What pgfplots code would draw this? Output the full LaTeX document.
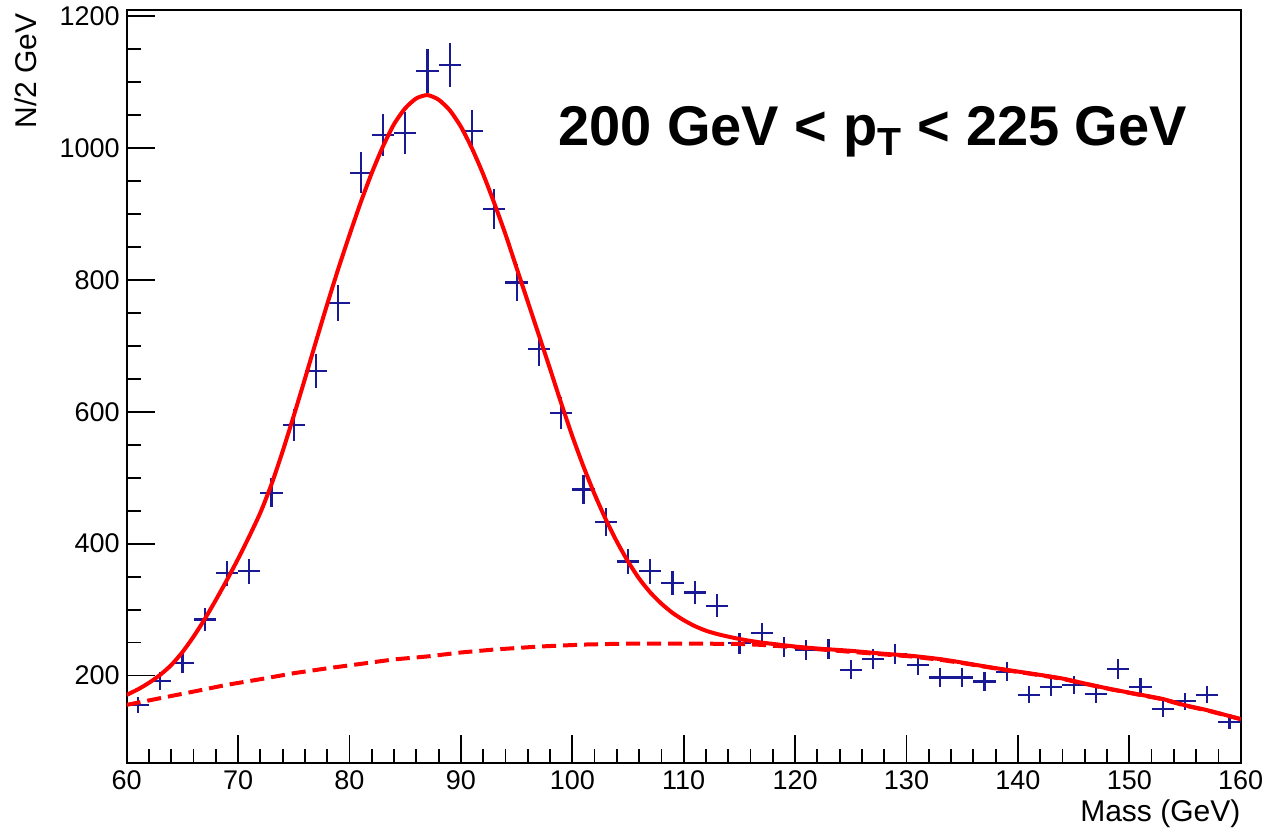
\documentclass[border=0pt]{standalone}
\usepackage{fontspec}
\setmainfont{Liberation Sans}
\usepackage{pgfplots}
\usepackage{pgfplotstable}
\pgfplotsset{compat=1.18}
\definecolor{rootblue}{RGB}{25,25,150}
\definecolor{rootred}{RGB}{255,0,0}

\pgfplotstableread{
x y ex ey
61 155 1 12.4
63 192 1 13.9
65 219 1 14.8
67 285 1 16.9
69 355 1 18.8
71 358 1 18.9
73 477 1 21.8
75 580 1 24.1
77 662 1 25.7
79 765 1 27.7
81 962 1 31.0
83 1020 1 31.9
85 1023 1 32.0
87 1117 1 33.4
89 1126 1 33.6
91 1026 1 32.0
93 907 1 30.1
95 796 1 28.2
97 695 1 26.4
99 598 1 24.5
101 482 1 22.0
103 433 1 20.8
105 373 1 19.3
107 358 1 18.9
109 340 1 18.4
111 326 1 18.1
113 306 1 17.5
115 249 1 15.8
117 264 1 16.2
119 243 1 15.6
121 239 1 15.5
123 240 1 15.5
125 209 1 14.5
127 225 1 15.0
129 233 1 15.3
131 216 1 14.7
133 197 1 14.0
135 197 1 14.0
137 191 1 13.8
139 206 1 14.4
141 171 1 13.1
143 183 1 13.5
145 186 1 13.6
147 172 1 13.1
149 210 1 14.5
151 183 1 13.5
153 149 1 12.2
155 161 1 12.7
157 171 1 13.1
159 130 1 11.4
}\datatable

\pgfplotstableread{
x y
60 170.7
61 179
62 189
63 201
64 216
65 235.5
66 259
67 285.5
68 314.5
69 345
70 377
71 411
72 447
73 490
74 540
75 594
76 650
77 707
78 763
79 817
80 868
81 917
82 962
83 1002
84 1036
85 1060
86 1075
87 1080
88 1073
89 1057
90 1032
91 999
92 960
93 916
94 869
95 818
96 767
97 716
98 665
99 613
100 563
101 517
102 475
103 437
104 403
105 373
106 347
107 326
108 309
109 295
110 284
111 275
112 268
113 263
114 259
115 255.5
116 252.5
117 250
118 248
120 244
122 241
125 237.5
128 233
130.4 230
133 225
135 219.7
137 214
139.4 207.6
142 201
144 195.5
146 188
148.4 179.3
151 171
153 164.5
155 155
157 147.5
160 134
}\totfit

\pgfplotstableread{
x y
60 155.6
63 165.7
66 175.7
69 186
72 194.5
75 203.6
78 211
81 217.7
84 224.5
87 229
90 235
93 239.5
97 244
101 247
105 248.5
110 248.5
115 248
117 246.5
120 243
122 240
125 236
128 232
130.4 229
133 224
135 219
137 213.5
139.4 207
142 200.5
144 195
146 187.5
148.4 179
151 170.5
153 164
155 154.5
157 147
160 134
}\bkg

\begin{document}
\begin{tikzpicture}
\begin{axis}[
  scale only axis, width=557bp, height=376.65bp,
  xmin=60, xmax=160, ymin=67, ymax=1209,
  xtick={60,70,...,160}, ytick={200,400,...,1200},
  minor x tick num=4, minor y tick num=3,
  tick pos=left, tick align=inside,
  major tick length=14bp, minor tick length=7bp,
  axis line style={line width=1bp},
  tick style={black, line width=0.9bp},
  ticklabel style={font=\fontsize{13.5bp}{16bp}\selectfont},
  /pgf/number format/assume math mode=true,
  /pgf/number format/1000 sep={},
  xlabel={Mass (GeV)}, ylabel={N/2 GeV},
  label style={font=\fontsize{15bp}{18bp}\selectfont},
  xlabel style={at={(rel axis cs:1,0)}, anchor=base east, yshift=-29bp, inner sep=0pt},
  ylabel style={at={(rel axis cs:-0.091,0.996)}, anchor=east, inner sep=0pt},
]
\addplot[draw=none, mark=none,
  error bars/.cd, x dir=both, x explicit, y dir=both, y explicit,
  error mark=none, error bar style={draw=rootblue, line width=1.1bp, solid}]
  table[x=x, y=y, x error=ex, y error=ey] {\datatable};
\addplot[rootred, line width=2bp, dash pattern=on 7bp off 3.5bp] table[x=x,y=y] {\bkg};
\addplot[rootred, line width=2bp, line join=round, smooth, tension=0.4] table[x=x,y=y] {\totfit};
\node[anchor=base west, inner sep=0pt, font=\fontsize{28bp}{32bp}\selectfont\bfseries]
  at (axis cs:98.7,1003) {200 GeV < p\textsubscript{T} < 225 GeV};
\end{axis}
\pgfresetboundingbox
\path ([shift={(-63.35bp,-34.35bp)}]current axis.south west) rectangle ([shift={(13.65bp,5bp)}]current axis.north east);
\end{tikzpicture}
\end{document}
